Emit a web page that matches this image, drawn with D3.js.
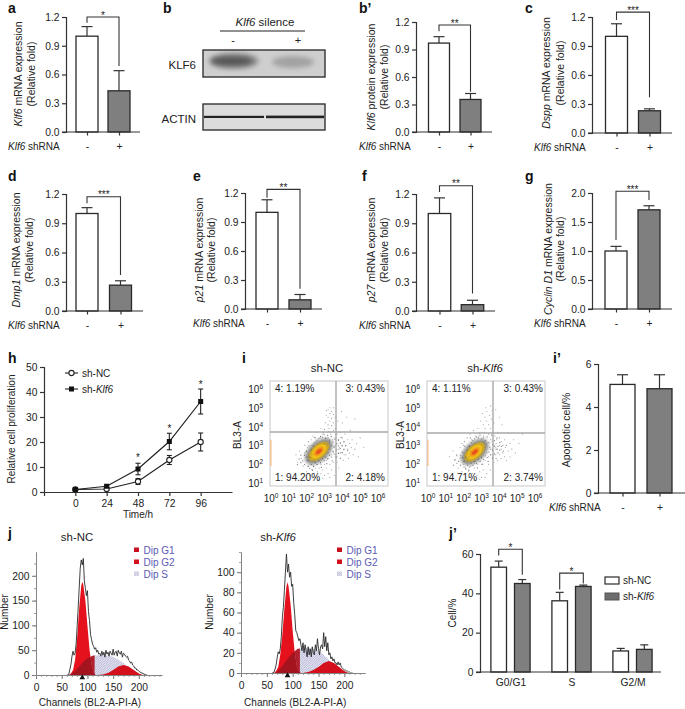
<!DOCTYPE html>
<html><head><meta charset="utf-8">
<script src="https://cdn.jsdelivr.net/npm/d3@7/dist/d3.min.js"></script>
<style>
html,body{margin:0;padding:0;background:#fff}
svg{display:block}
text{font-family:"Liberation Sans",Arial,sans-serif;fill:#222}
.tick text{font-family:"Liberation Sans",Arial,sans-serif;font-size:10.3px;fill:#222}
.pl{font-weight:bold;fill:#111}
</style></head><body>
<svg id="c" width="685" height="709"></svg>
<script>
// ---------- DATA ----------
const shLevels=["-","+"];
const a_means=[1.0,0.43],  a_tops=[1.10,0.64],  a_bracket=[1.2,1.14,0.69],  a_stars="*";
const bp_means=[0.97,0.355],bp_tops=[1.04,0.42],bp_bracket=[1.167,1.10,0.44],bp_stars="**";
const c_means=[1.0,0.23],  c_tops=[1.13,0.25],  c_bracket=[1.25,1.17,0.37], c_stars="***";
const d_means=[1.0,0.265], d_tops=[1.06,0.31], d_bracket=[1.172,1.105,0.37],d_stars="***";
const e_means=[1.0,0.095], e_tops=[1.13,0.15], e_bracket=[1.238,1.15,0.21], e_stars="**";
const f_means=[1.0,0.065], f_tops=[1.16,0.11], f_bracket=[1.285,1.22,0.18], f_stars="**";
const g_means=[1.0,1.71],  g_tops=[1.08,1.78], g_bracket=[2.03,1.19,1.88],  g_stars="***";
const ip_means=[5.05,4.85],ip_tops=[5.5,5.5];
const foldTicks=[0,0.3,0.6,0.9,1.2], gTicks=[0,0.5,1,1.5,2], apoTicks=[0,2,4,6];

const hours=[0,24,48,72,96];
const h_nc=[1,1.2,4.2,12.8,20], h_ncErr=[0.3,0.6,1.2,1.8,3.6];
const h_kd=[1,2.3,9.2,20.2,36.2], h_kdErr=[0.2,0.5,2.3,3.3,5];
const h_starHours=[48,72,96], h_starVals=[14,25.5,43];
const h_yTicks=[0,10,20,30,40,50];

const phases=["G0/G1","S","G2/M"];
const jp_nc=[53.3,36.2,10.7], jp_ncTop=[56.4,40.5,12];
const jp_kd=[45,43.5,11.5],   jp_kdTop=[47,44.2,13.8];
const jp_brackets=[["G0/G1",62.4,59.2,49.5],["S",50.3,42,45]];

const quadNC=["4: 1.19%","3: 0.43%","1: 94.20%","2: 4.18%"];
const quadKD=["4: 1.11%","3: 0.43%","1: 94.71%","2: 3.74%"];
const decadesX=[0,1,2,3,4,5,6], decadesY=[1,2,3,4,5,6];
// flow events [log10 green, log10 BL3]
const flowNC=[[1.4,2.5],[1.5,2.1],[1.6,2.7],[1.7,2.3],[1.8,1.9],[1.9,2.6],[1.9,3.0],[2,1.6],[2,2.2],[2.05,2.9],[2.1,1.9],[2.1,3.2],[2.2,1.4],[2.2,2.0],[2.25,3.3],[2.3,1.7],[2.35,3.5],[2.4,1.5],[2.4,3.1],[2.5,1.3],[2.5,3.4],[2.6,1.6],[2.6,3.7],[2.7,1.2],[2.7,1.8],[2.75,3.4],[2.8,1.5],[2.8,3.9],[2.9,1.7],[2.9,3.6],[3,1.4],[3,2],[3,3.85],[3.05,3.4],[3.05,4.2],[3.1,1.8],[3.1,4.6],[3.1,4.85],[3.15,3.7],[3.2,1.5],[3.2,2.3],[3.2,4.1],[3.2,4.5],[3.2,4.9],[3.25,3.9],[3.3,2],[3.3,4.3],[3.3,4.7],[3.3,5],[3.35,3.6],[3.4,1.7],[3.4,2.5],[3.4,4.05],[3.4,4.45],[3.4,4.8],[3.45,3.3],[3.5,2.1],[3.5,3.8],[3.5,4.2],[3.5,4.65],[3.5,5],[3.55,2.9],[3.55,1.4],[3.6,2.4],[3.6,3.4],[3.6,3.9],[3.6,4.5],[3.65,2.7],[3.7,2.1],[3.7,3.1],[3.7,3.6],[3.75,4.3],[3.8,1.8],[3.8,2.6],[3.8,3.3],[3.85,2.9],[3.9,2.3],[3.9,3.1],[3.9,3.7],[3.95,4.8],[4,2.6],[4,3],[4,3.4],[4,4.2],[4.05,2.2],[4.1,2.8],[4.1,3.2],[4.15,3.6],[4.2,2.5],[4.2,3],[4.25,4.5],[4.3,2.8],[4.3,3.3],[4.35,2.3],[4.4,2.6],[4.4,3.1],[4.45,3.8],[4.5,2.9],[4.55,3.3],[4.6,2.5],[4.7,2.8],[4.7,4.4],[4.8,3.1],[4.9,2.4],[5,3.4],[5.2,2.9],[3.3,1.3],[2.9,1.25],[2.3,2.5],[2.2,2.7],[2.3,3],[2.4,2.2],[2.4,1.9],[3.1,2.2],[3.2,2.6],[3.3,2.8],[3.3,3.2],[3.4,3],[3.5,2.6],[3.15,3.05],[3.2,3.4],[3,3.1],[3,2.4],[2.8,2],[2.6,2],[2.5,1.8],[2.1,2.4],[2.0,2.7],[3.6,3],[3.7,2.4],[3.8,2.8],[3.9,2.6],[4.1,2.5]];
const flowKD=[[1.2,2.4],[1.4,2.7],[1.5,2.2],[1.6,2.5],[1.7,1.8],[1.8,2.9],[1.8,2.3],[1.9,1.6],[1.9,3.1],[2,2],[2,2.6],[2.05,3.2],[2.1,1.5],[2.1,1.8],[2.2,2.9],[2.2,3.4],[2.3,1.3],[2.3,1.7],[2.35,3.6],[2.4,1.9],[2.45,3.3],[2.5,1.5],[2.55,3.8],[2.6,1.2],[2.6,1.8],[2.65,3.5],[2.75,1.4],[2.8,3.9],[2.85,3.5],[2.9,1.6],[2.95,4.3],[3,1.3],[3,2],[3,3.7],[3.05,4.7],[3.1,1.7],[3.1,3.4],[3.1,4.1],[3.2,2.2],[3.2,3.9],[3.2,4.5],[3.25,5],[3.3,1.5],[3.3,2.6],[3.3,4.3],[3.3,4.8],[3.4,2],[3.4,3.6],[3.4,4.1],[3.45,4.6],[3.5,1.7],[3.5,2.8],[3.5,3.9],[3.5,5.1],[3.55,4.4],[3.6,2.3],[3.6,3.2],[3.6,3.7],[3.6,4.85],[3.65,2.7],[3.7,2.1],[3.7,3],[3.7,4.2],[3.75,3.5],[3.8,2.5],[3.8,2.9],[3.8,4.9],[3.85,3.3],[3.9,2.2],[3.9,2.8],[3.9,3.7],[4,2.5],[4,3],[4,3.4],[4,4.5],[4.1,2.3],[4.1,2.8],[4.1,3.2],[4.15,4.1],[4.2,2.6],[4.2,3],[4.3,2.4],[4.3,3.3],[4.35,2.9],[4.4,2.2],[4.4,3],[4.5,2.7],[4.5,3.7],[4.6,2.4],[4.6,3.1],[4.7,2.8],[4.8,3.3],[4.9,2.6],[5.1,3.1],[5.3,3.6],[3.2,1.3],[2.9,1.2],[2.3,2.4],[2.2,2.2],[2.3,3],[2.4,2.7],[3.1,2.5],[3.2,2.9],[3.3,3.1],[3.4,2.4],[3.5,2.5],[3.15,3.2],[3,2.4],[2.8,2],[2.6,2.05],[2.1,2.4],[2,3],[3.6,2.8],[3.7,2.5]];
// events close around the core, in decades from the core centre
const flowHalo=[[-0.9,-0.5],[-0.8,-0.7],[-0.7,-0.3],[-0.6,-0.8],[-0.6,-0.5],[-0.5,-0.9],[-0.5,-0.3],[-0.4,-0.7],[-0.4,0.1],[-0.3,-0.8],[-0.3,0.3],[-0.2,-0.6],[-0.2,0.5],[-0.1,-0.7],[-0.1,0.6],[0,-0.5],[0,0.7],[0.1,-0.6],[0.1,0.8],[0.2,-0.4],[0.2,0.75],[0.3,-0.5],[0.3,0.9],[0.4,-0.3],[0.4,0.7],[0.5,-0.4],[0.5,0.85],[0.6,-0.2],[0.6,0.6],[0.7,-0.3],[0.7,0.8],[0.8,0],[0.8,0.5],[0.85,0.25],[0.9,-0.15],[0.9,0.65],[1,0.1],[1,0.4],[1.1,-0.1],[1.1,0.3],[1.1,0.6],[1.2,0.15],[1.2,0.45],[1.3,-0.05],[1.3,0.3],[1.4,0.1],[1.4,0.5],[-0.7,0],[-0.8,-0.2],[-1,-0.6],[-1,-0.2],[-1.1,-0.4],[-1.2,-0.7],[-0.35,-1],[0.15,-0.85],[0.45,-0.65],[0.75,-0.5],[1,-0.3],[1.2,-0.35],[1.5,0.3],[1.6,0.05],[-0.55,0.3],[-0.25,0.75],[0.25,1.0],[0.55,1.05],[0.95,0.9],[1.25,0.75]];
// density core: [semi-axis along diagonal, semi-axis across, colour] in decades
const densityBands=[[0.95,0.58,"#777"],[0.82,0.46,"#3c3a28"],[0.68,0.37,"#d0a820"],[0.5,0.27,"#f2c417"],[0.34,0.19,"#f39a1c"],[0.2,0.1,"#e8481c"]];
const densityCentreNC=[2.68,2.68], densityCentreKD=[2.62,2.65];
const edgeBandNC=[1.9,3.3];

const channels=d3.range(60,218,2);
const histNC=[0,0,2,12,22,38,48,40,44,62,98,135,175,215,232,222,235,190,175,160,170,128,110,82,72,62,58,52,55,46,50,42,44,38,48,40,46,36,50,42,46,38,48,44,40,52,40,46,48,38,50,44,42,48,36,44,42,38,36,38,30,28,24,26,20,18,14,14,10,10,8,6,5,4,3,2,1,0,0];
const histKD=[0,0,1,4,8,15,21,19,24,36,55,65,82,100,118,100,108,95,100,86,88,70,58,42,40,36,32,34,28,22,30,20,28,22,16,26,18,24,16,26,20,18,28,22,34,24,18,26,28,24,40,26,36,22,30,18,20,14,16,12,14,10,10,8,11,8,10,6,5,4,3,3,2,2,1,1,0,0,0];
const g1X=[64,68,72,76,80,84,88,90,92,96,100,104,108,112,116];
const g1NC=[0,3,10,30,75,135,180,188,182,150,100,52,20,5,0];
const g1KD=[0,2,6,18,38,64,86,90,86,68,42,20,7,2,0];
const sX=[64,72,80,90,100,110,120,130,140,150,160,170,180,190,200,206];
const sNC=[0,5,12,24,34,39,40,40,39,37,31,24,15,8,2,0];
const sKD=[0,2,7,14,20,24,24.5,24.5,24,22,18,13,8,4,1,0];
const g2X=[120,130,140,150,160,170,180,190,200,208];
const g2NC=[0,1,4,10,17,20,17,10,3,0];
const g2KD=[0,1,3,6,10,12,10,6,2,0];
const histLegend=["Dip G1","Dip G2","Dip S"];
const histXTicks=[0,50,100,150,200];
const ncYTicks=[0,50,100,150,200], kdYTicks=[0,20,40,60,80,100];

const blotLanes=["-","+"];
const klf6Band=[0.92,0.4], actinBand=[1,1];

// ---------- HELPERS ----------
const svg=d3.select("#c");
const defs=svg.append("defs");
defs.append("filter").attr("id","soft").append("feGaussianBlur").attr("stdDeviation",1.1);
const softBig=defs.append("filter").attr("id","soft3").attr("x","-30%").attr("y","-60%").attr("width","160%").attr("height","220%");
softBig.append("feGaussianBlur").attr("stdDeviation",2.4);
defs.append("filter").attr("id","soft05").attr("y","-100%").attr("height","300%").append("feGaussianBlur").attr("stdDeviation",0.7);
const pat=defs.append("pattern").attr("id","hatch").attr("width",2.4).attr("height",2.4).attr("patternUnits","userSpaceOnUse");
pat.append("rect").attr("width",2.4).attr("height",2.4).attr("fill","#e4e4f0");
pat.append("path").attr("d","M0 2.4L2.4 0").attr("stroke","#9a9ac6").attr("stroke-width",0.6);

function rich(sel,s){s.split("_").forEach((p,i)=>{if(p)sel.append("tspan").attr("font-style",i%2?"italic":"normal").text(p);});return sel;}
function txt(x,y,s,anchor="start",size=10,g=svg){return rich(g.append("text").attr("x",x).attr("y",y).attr("text-anchor",anchor).attr("font-size",size),s);}
function rot(x,y,s,size=10){return rich(svg.append("text").attr("transform",`translate(${x},${y}) rotate(-90)`).attr("text-anchor","middle").attr("font-size",size),s);}
function styleAxis(g,col="#333",w=1.2){g.selectAll("path,line").attr("stroke",col).attr("stroke-width",w);g.selectAll("text").attr("fill","#222");}
function hline(x1,x2,y,col="#333",w=1.2){svg.append("line").attr("x1",x1).attr("x2",x2).attr("y1",y).attr("y2",y).attr("stroke",col).attr("stroke-width",w);}
function pathLine(pts,col="#333",w=1.1){svg.append("path").attr("d",d3.line()(pts)).attr("fill","none").attr("stroke",col).attr("stroke-width",w);}
function panelLabel(x,y,s){svg.append("text").attr("class","pl").attr("x",x).attr("y",y).attr("font-size",14).text(s);}

function barPanel(o){
  const y=d3.scaleLinear().domain([0,o.max]).range([o.y0,o.y1]);
  const x=d3.scalePoint().domain(shLevels).range([o.c1,o.c2]);
  const g=svg.append("g");
  shLevels.forEach((lv,i)=>{
    const cx=x(lv);
    g.append("line").attr("x1",cx).attr("x2",cx).attr("y1",y(o.means[i])).attr("y2",y(o.tops[i])).attr("stroke","#333").attr("stroke-width",1.2);
    g.append("line").attr("x1",cx-5.5).attr("x2",cx+5.5).attr("y1",y(o.tops[i])).attr("y2",y(o.tops[i])).attr("stroke","#333").attr("stroke-width",1.2);
    g.append("rect").attr("x",cx-o.w/2).attr("width",o.w).attr("y",y(o.means[i])).attr("height",y(0)-y(o.means[i]))
      .attr("fill",i?"#7f7f7f":"#fff").attr("stroke","#2a2a2a").attr("stroke-width",1.3);
  });
  const ax=svg.append("g").attr("transform",`translate(${o.x0},0)`).call(d3.axisLeft(y).tickValues(o.ticks).tickSize(4).tickPadding(2.5).tickFormat(o.fmt||d3.format(".1f")));
  styleAxis(ax);
  hline(o.x0-4,o.xEnd,o.y0);
  const bx=svg.append("g").attr("transform",`translate(0,${o.y0})`).call(d3.axisBottom(x).tickSize(3.5).tickPadding(7));
  bx.select(".domain").remove(); styleAxis(bx);
  txt(o.shX,o.y0+17.5,"_Klf6_ shRNA");
  rot(o.t1x,o.tc,o.title1,10.5); if(o.title2) rot(o.t2x,o.tc,o.title2,10.5);
  if(o.bracket){
    const [t,l,r]=o.bracket;
    pathLine([[x("-"),y(l)],[x("-"),y(t)],[x("+"),y(t)],[x("+"),y(r)]]);
    txt((x("-")+x("+"))/2,y(t)+1.5,o.stars,"middle",10);
  }
}

// ---------- BAR PANELS ----------
barPanel({means:a_means,tops:a_tops,bracket:a_bracket,stars:a_stars,max:1.2,ticks:foldTicks,x0:66,xEnd:140,y0:132,y1:17,c1:87,c2:119,w:22,shX:8,t1x:22,t2x:35,tc:74,title1:"_Klf6_ mRNA expression",title2:"(Relative fold)"});
barPanel({means:bp_means,tops:bp_tops,bracket:bp_bracket,stars:bp_stars,max:1.2,ticks:foldTicks,x0:416,xEnd:492,y0:132,y1:22,c1:439,c2:470.5,w:21,shX:359,t1x:375,t2x:388,tc:77,title1:"_Klf6_ protein expression",title2:"(Relative fold)"});
barPanel({means:c_means,tops:c_tops,bracket:c_bracket,stars:c_stars,max:1.2,ticks:foldTicks,x0:592,xEnd:672,y0:133,y1:17,c1:616.5,c2:649.5,w:22,shX:534,t1x:550,t2x:564,tc:73,title1:"_Dspp_ mRNA expression",title2:"(Relative fold)"});
barPanel({means:d_means,tops:d_tops,bracket:d_bracket,stars:d_stars,max:1.2,ticks:foldTicks,x0:66,xEnd:143,y0:311,y1:194,c1:87,c2:120.5,w:22,shX:8,t1x:20,t2x:33,tc:250,title1:"_Dmp1_ mRNA expression",title2:"(Relative fold)"});
barPanel({means:e_means,tops:e_tops,bracket:e_bracket,stars:e_stars,max:1.2,ticks:foldTicks,x0:245,xEnd:322,y0:309,y1:193,c1:267,c2:300,w:22,shX:193,t1x:203,t2x:215,tc:250,title1:"_p21_ mRNA expression",title2:"(Relative fold)"});
barPanel({means:f_means,tops:f_tops,bracket:f_bracket,stars:f_stars,max:1.2,ticks:foldTicks,x0:416,xEnd:495,y0:311,y1:194,c1:439.5,c2:472.5,w:22.5,shX:359,t1x:375,t2x:388,tc:250,title1:"_p27_ mRNA expression",title2:"(Relative fold)"});
barPanel({means:g_means,tops:g_tops,bracket:g_bracket,stars:g_stars,max:2,ticks:gTicks,x0:592,xEnd:672,y0:309,y1:193,c1:616,c2:649,w:22,shX:534,t1x:552,t2x:564,tc:249,title1:"_Cyclin D1_ mRNA expression",title2:"(Relative fold)"});
barPanel({means:ip_means,tops:ip_tops,max:6,ticks:apoTicks,fmt:d3.format("d"),x0:598,xEnd:685,y0:493,y1:364,c1:622.5,c2:659.5,w:25,shX:549,t1x:570,tc:430,title1:"Apoptotic cell/%"});

// ---------- PANEL b (western blot) ----------
txt(265,25.5,"_Klf6_ silence","middle",11.5);
hline(220,305,31,"#222",1);
const lane=d3.scalePoint().domain(blotLanes).range([233,298]);
blotLanes.forEach(l=>txt(lane(l),44,l,"middle",11));
txt(196,69,"KLF6","end",11.5);
txt(196,123,"ACTIN","end",11.5);
const bg=svg.append("g");
bg.append("rect").attr("x",203).attr("y",50).attr("width",122).attr("height",27).attr("fill","#cfcfcf");
bg.append("ellipse").attr("cx",234).attr("cy",61).attr("rx",27*klf6Band[0]).attr("ry",8).attr("fill","#8f8f8f").attr("filter","url(#soft3)");
bg.append("ellipse").attr("cx",232).attr("cy",61).attr("rx",21).attr("ry",4.5).attr("fill","#555").attr("filter","url(#soft3)");
bg.append("ellipse").attr("cx",293).attr("cy",62).attr("rx",21).attr("ry",6).attr("fill","#a2a2a2").attr("filter","url(#soft3)");
bg.append("rect").attr("x",203).attr("y",50).attr("width",122).attr("height",27).attr("fill","none").attr("stroke","#333").attr("stroke-width",1.4);
bg.append("rect").attr("x",203).attr("y",104).attr("width",122).attr("height",26).attr("fill","#dcdcdc");
bg.append("rect").attr("x",204).attr("y",115.8).attr("width",60).attr("height",2.2).attr("fill","#222").attr("filter","url(#soft05)");
bg.append("rect").attr("x",266).attr("y",115.6).attr("width",58).attr("height",2.6).attr("fill","#222").attr("filter","url(#soft05)");
bg.append("rect").attr("x",203).attr("y",104).attr("width",122).attr("height",26).attr("fill","none").attr("stroke","#333").attr("stroke-width",1.4);

// ---------- PANEL h ----------
(function(){
  const x=d3.scaleLinear().domain([-24,120]).range([44,232]);
  const y=d3.scaleLinear().domain([0,50]).range([492,367]);
  styleAxis(svg.append("g").attr("transform","translate(44,0)").call(d3.axisLeft(y).tickValues(h_yTicks).tickSize(4).tickPadding(2.5)));
  const ax=svg.append("g").attr("transform","translate(0,492)").call(d3.axisBottom(x).tickValues([-24,...hours]).tickSize(4).tickPadding(4).tickFormat(d=>d<0?"":d).tickSizeOuter(0));
  styleAxis(ax);
  txt(138,518,"Time/h","middle");
  rot(15,429,"Relative cell proliferation");
  const ln=d3.line().x((d,i)=>x(hours[i])).y(d=>y(d));
  const drawS=(vals,errs,filled)=>{
    svg.append("path").attr("d",ln(vals)).attr("fill","none").attr("stroke","#222").attr("stroke-width",1.2);
    vals.forEach((v,i)=>{
      const cx=x(hours[i]);
      pathLine([[cx,y(v-errs[i])],[cx,y(v+errs[i])]],"#222",1.1);
      [v-errs[i],v+errs[i]].forEach(e=>pathLine([[cx-2.5,y(e)],[cx+2.5,y(e)]],"#222",1.1));
    });
    vals.forEach((v,i)=>{
      const cx=x(hours[i]);
      if(filled) svg.append("rect").attr("x",cx-2.5).attr("y",y(v)-2.5).attr("width",5).attr("height",5).attr("fill","#111");
      else svg.append("circle").attr("cx",cx).attr("cy",y(v)).attr("r",2.6).attr("fill","#fff").attr("stroke","#222").attr("stroke-width",1.1);
    });
  };
  drawS(h_nc,h_ncErr,false);
  drawS(h_kd,h_kdErr,true);
  h_starHours.forEach((h,i)=>txt(x(h),y(h_starVals[i])+3.5,"*","middle",10));
  pathLine([[65,373],[78,373]],"#222",1.1);
  svg.append("circle").attr("cx",71.5).attr("cy",373).attr("r",2.6).attr("fill","#fff").attr("stroke","#222").attr("stroke-width",1.1);
  txt(82,376.5,"sh-NC");
  pathLine([[65,389],[78,389]],"#222",1.1);
  svg.append("rect").attr("x",69).attr("y",386.5).attr("width",5).attr("height",5).attr("fill","#111");
  txt(82,392.5,"sh-_Klf6_");
})();

// ---------- PANEL i (flow) ----------
function flow(o){
  const x=v=>o.xScale(Math.pow(10,v)), y=v=>o.yScale(Math.pow(10,v));
  const g=svg.append("g");
  g.append("rect").attr("x",o.l).attr("y",381).attr("width",o.r-o.l).attr("height",105).attr("fill","#fff").attr("stroke","#c8c8c8").attr("stroke-width",1);
  g.append("rect").attr("x",o.l).attr("y",y(edgeBandNC[1])).attr("width",1.6).attr("height",y(edgeBandNC[0])-y(edgeBandNC[1])).attr("fill","#f3c79a");
  const sx=o.xScale(1e3)-o.xScale(1e2), sy=o.yScale(1e2)-o.yScale(1e3);
  const [cx,cy]=o.centre;
  densityBands.forEach((b,i)=>{
    g.append("ellipse").attr("transform",`translate(${x(cx)},${y(cy)}) rotate(-42)`).attr("rx",b[0]*(sx+sy)/2).attr("ry",b[1]*(sx+sy)/2)
     .attr("fill",b[2]).attr("opacity",i<2?0.42:0.95).attr("filter",i<2?"url(#soft)":"url(#soft05)");
  });
  o.pts.forEach(p=>{g.append("circle").attr("cx",x(p[0])).attr("cy",y(p[1])).attr("r",0.55).attr("fill","#777").attr("opacity",0.75);});
  flowHalo.forEach(p=>{g.append("circle").attr("cx",x(cx+p[0])).attr("cy",y(cy+p[1])).attr("r",0.6).attr("fill","#555").attr("opacity",0.8);});
  g.append("line").attr("x1",o.gx).attr("x2",o.gx).attr("y1",381).attr("y2",486).attr("stroke","#a8a8a8").attr("stroke-width",1.4);
  g.append("line").attr("x1",o.l).attr("x2",o.r).attr("y1",o.gy).attr("y2",o.gy).attr("stroke","#a8a8a8").attr("stroke-width",1.4);
  txt(o.tc,372,o.title,"middle",11.4);
  txt(o.lx,392,o.q[0]); txt(o.rx,392,o.q[1],"end");
  txt(o.lx,481,o.q[2]); txt(o.rx,481,o.q[3],"end");
  const ex=(xp,yp,d,anchor)=>{
    const t=svg.append("text").attr("x",xp).attr("y",yp).attr("text-anchor",anchor).attr("font-size",10);
    t.append("tspan").text("10");
    t.append("tspan").attr("dy",-4).attr("font-size",6.5).text(d);
  };
  decadesX.forEach(d=>ex(o.xScale(Math.pow(10,d)),502,d,"middle"));
  decadesY.forEach(d=>ex(o.l-7,o.yScale(Math.pow(10,d))+4,d,"end"));
  rot(o.lab,435,"BL3-A");
}
flow({l:270,r:388,gx:336,gy:432,tc:327,title:"sh-NC",lx:275,rx:385,q:quadNC,pts:flowNC,centre:densityCentreNC,lab:241,
  xScale:d3.scaleLog().domain([1,1e6]).range([271,378]),yScale:d3.scaleLog().domain([10,1e6]).range([483,389])});
flow({l:427,r:545,gx:493,gy:433,tc:485,title:"sh-_Klf6_",lx:432,rx:543,q:quadKD,pts:flowKD,centre:densityCentreKD,lab:404,
  xScale:d3.scaleLog().domain([1,1e6]).range([428,535]),yScale:d3.scaleLog().domain([10,1e6]).range([483,389])});

// ---------- PANEL j (histograms) ----------
function hist(o){
  const x=d3.scaleLinear().domain([0,o.xMax]).range([o.x0,o.xEnd]);
  const y=d3.scaleLinear().domain([0,o.yMax]).range([o.y0,o.yTop]);
  const g=svg.append("g");
  const areaOf=(xs)=>d3.area().x((d,i)=>x(xs[i])).y0(y(0)).y1(d=>y(d));
  g.append("path").attr("d",areaOf(sX)(o.s)).attr("fill","url(#hatch)");
  g.append("path").attr("d",areaOf(g2X)(o.g2)).attr("fill","#d3101c");
  g.append("path").attr("d",areaOf(g1X)(o.g1)).attr("fill","#e5111c");
  const sInterp=d3.scaleLinear().domain(sX).range(o.s);
  const overlapX=d3.range(68,116,2);
  const overlap=overlapX.map(c=>{const i=g1X.findIndex(v=>v>=c);
     const t=i>0?(c-g1X[i-1])/(g1X[i]-g1X[i-1]):0; const gv=i>0?o.g1[i-1]+(o.g1[i]-o.g1[i-1])*t:o.g1[0];
     return Math.min(gv,sInterp(c));});
  g.append("path").attr("d",areaOf(overlapX)(overlap)).attr("fill","#a3141f");
  g.append("path").attr("d",d3.area().x((d,i)=>x(overlapX[i])).y0(d=>y(d)).y1((d,i)=>y(sInterp(overlapX[i])))(overlap)).attr("fill","#b0202c");
  g.append("path").attr("d",d3.line().x((d,i)=>x(channels[i])).y(d=>y(d))(o.raw)).attr("fill","none").attr("stroke","#2a2a2a").attr("stroke-width",0.9);
  const ax=svg.append("g").attr("transform",`translate(0,${o.y0})`).call(d3.axisBottom(x).tickValues(histXTicks).tickSize(4).tickPadding(5).tickSizeOuter(0));
  styleAxis(ax,"#777",1);
  const ax2=svg.append("g").attr("transform",`translate(${o.x0},0)`).call(d3.axisLeft(y).tickValues(o.ticks).tickSize(4).tickPadding(2.5).tickSizeOuter(0));
  styleAxis(ax2,"#777",1);
  svg.append("g").attr("transform",`translate(0,${o.y0})`).call(d3.axisBottom(x).tickValues(d3.range(0,o.xMax,10)).tickSize(2).tickFormat("").tickSizeOuter(0)).call(s=>styleAxis(s,"#888",.8));
  svg.append("g").attr("transform",`translate(${o.x0},0)`).call(d3.axisLeft(y).tickValues(d3.range(0,o.yMax+.01,o.minor)).tickSize(2).tickFormat("").tickSizeOuter(0)).call(s=>styleAxis(s,"#888",.8));
  svg.append("path").attr("d",d3.symbol(d3.symbolTriangle,14)()).attr("transform",`translate(${x(90)},${o.y0+2.5})`).attr("fill","#111");
  txt(o.tc,540.5,o.title,"middle",11.4);
  txt(x(105),706,"Channels (BL2-A-PI-A)","middle",10);
  rot(o.lab,612,"Number");
  histLegend.forEach((l,i)=>{
    const yy=550+i*12;
    svg.append("rect").attr("x",o.lg).attr("y",yy-2.5).attr("width",5).attr("height",4.5).attr("fill",i==2?"url(#hatch)":(i?"#d3101c":"#c5121e"));
    txt(o.lg+9.5,yy+3.5,l).selectAll("tspan").style("fill","#5a5ab4");
  });
}
hist({x0:36,xEnd:162,xMax:245,y0:675,yTop:552,yMax:248,minor:25,raw:histNC,g1:g1NC,s:sNC,g2:g2NC,ticks:ncYTicks,title:"sh-NC",tc:77,lab:8,lg:134});
hist({x0:241,xEnd:365,xMax:240,y0:673,yTop:552,yMax:120,minor:10,raw:histKD,g1:g1KD,s:sKD,g2:g2KD,ticks:kdYTicks,title:"sh-_Klf6_",tc:278,lab:213,lg:337});

// ---------- PANEL j' ----------
(function(){
  const x=d3.scalePoint().domain(phases).range([510.5,632.5]);
  const y=d3.scaleLinear().domain([0,60]).range([672,554]);
  const bar=(cx,v,top,fill)=>{
    pathLine([[cx,y(v)],[cx,y(top)]],"#333",1.2);
    pathLine([[cx-4,y(top)],[cx+4,y(top)]],"#333",1.2);
    svg.append("rect").attr("x",cx-7.8).attr("width",15.6).attr("y",y(v)).attr("height",y(0)-y(v)).attr("fill",fill).attr("stroke","#2a2a2a").attr("stroke-width",1.3);
  };
  phases.forEach((p,i)=>{
    bar(x(p)-11.8,jp_nc[i],jp_ncTop[i],"#fff");
    bar(x(p)+11.8,jp_kd[i],jp_kdTop[i],"#7f7f7f");
  });
  styleAxis(svg.append("g").attr("transform","translate(480,0)").call(d3.axisLeft(y).tickValues([0,20,40,60]).tickSize(4).tickPadding(2.5).tickFormat(d3.format("d"))));
  hline(476,661,672);
  const ax=svg.append("g").attr("transform","translate(0,672)").call(d3.axisBottom(x).tickSize(0).tickPadding(7));
  ax.select(".domain").remove(); styleAxis(ax);
  rot(456,613,"Cell/%");
  jp_brackets.forEach(([p,t,l,r])=>{
    pathLine([[x(p)-11.8,y(l)],[x(p)-11.8,y(t)],[x(p)+11.8,y(t)],[x(p)+11.8,y(r)]]);
    txt(x(p),y(t)+1.5,"*","middle");
  });
  svg.append("rect").attr("x",605).attr("y",577).attr("width",14).attr("height",7).attr("fill","#fff").attr("stroke","#2a2a2a").attr("stroke-width",1.2);
  txt(623,584,"sh-NC");
  svg.append("rect").attr("x",605).attr("y",593).attr("width",14).attr("height",7).attr("fill","#6d6d6d").attr("stroke","#555").attr("stroke-width",1);
  txt(623,600,"sh-_Klf6_");
})();

// ---------- PANEL LETTERS ----------
[[8,12.8,"a"],[163,12.8,"b"],[359,12.8,"b’"],[525,12.8,"c"],[8,181,"d"],[193,181,"e"],[362,181,"f"],[525,181,"g"],[8,363,"h"],[242,363,"i"],[553,363,"i’"],[8,538,"j"],[449,538,"j’"]]
  .forEach(d=>panelLabel(...d));
</script>
</body></html>
